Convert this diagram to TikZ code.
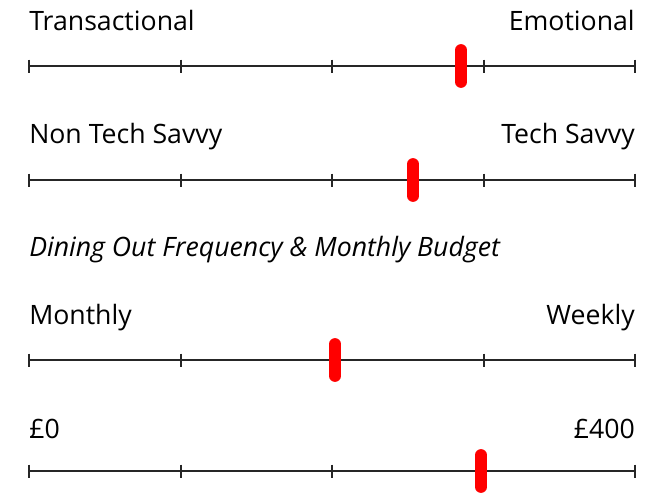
\documentclass[tikz,border=0pt]{standalone}
\usepackage{fontspec}
\setmainfont{Open Sans}
\usetikzlibrary{positioning}
\tikzstyle{label} = [inner sep=0, font=\fontsize{20}{22}\selectfont]
\tikzstyle{axis} = [line width=1.5pt, black!85]
\tikzstyle{tick} = [line width=1.5pt, black!85]
\tikzstyle{marker} = [line width=8.8pt, red, line cap=round]

\begin{document}
\begin{tikzpicture}[x=0.75pt, y=-0.75pt]
				\useasboundingbox (0,0) rectangle (652,497);
				% sliders: y of the axis, x of the marker
				\foreach \name/\ya/\xm in {s1/66/461, s2/180/413, s3/360/335, s4/471/481} {
					\coordinate (\name left) at (29,\ya);
					\coordinate (\name right) at (635,\ya);
					\draw [axis] (\name left) -- (\name right);
					\foreach \xt in {29, 180.5, 332, 483.5, 635}
						\draw [tick] (\xt,\ya-6.5) -- (\xt,\ya+6.5);
					\coordinate (\name top) at (\xm,\ya-16);
					\coordinate (\name bottom) at (\xm,\ya+16);
					\draw [marker] (\name top) -- (\name bottom);
				}
				\node (transactional) [label, anchor=base west] at (29,30) {Transactional};
				\node (emotional) [label, anchor=base east] at (635,30) {Emotional};
				\node (nontech) [label, anchor=base west] at (29,143) {Non Tech Savvy};
				\node (tech) [label, anchor=base east] at (635,143) {Tech Savvy};
				\node (dining) [label, anchor=base west, font=\fontsize{20}{22}\selectfont\itshape] at (29,256) {Dining Out Frequency \& Monthly Budget};
				\node (monthly) [label, anchor=base west] at (29,324) {Monthly};
				\node (weekly) [label, anchor=base east] at (635,324) {Weekly};
				\node (zero) [label, anchor=base west] at (29,438) {£0};
				\node (four) [label, anchor=base east] at (635,438) {£400};
			\end{tikzpicture}
\end{document}
